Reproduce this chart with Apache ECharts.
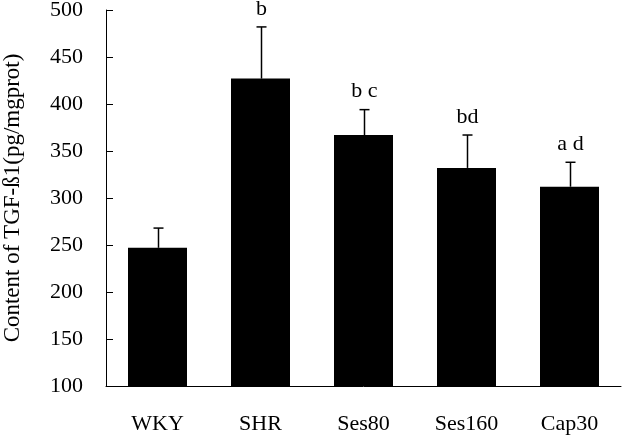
<!DOCTYPE html>
<html>
<head>
<meta charset="utf-8">
<script src="https://cdn.jsdelivr.net/npm/echarts@6/dist/echarts.min.js"></script>
<style>
  html, body { margin: 0; padding: 0; background: #fff; }
  #chart-box { width: 631px; height: 436px; }
</style>
</head>
<body>
<div id="chart-box"></div>
<script>
const categories = ['WKY', 'SHR', 'Ses80', 'Ses160', 'Cap30']
const means = [247, 427, 367, 332, 312]
const errorTops = [268, 482, 394, 367, 338]
const letters = ['', 'b', 'b c', 'bd', 'a d']
const yTicks = [100, 150, 200, 250, 300, 350, 400, 450, 500]

const font = '"Liberation Serif", "Times New Roman", serif'

let chart = echarts.init(document.getElementById('chart-box'))
chart.setOption({
    animation: false,
    grid: {left: 106, right: 10, top: 10, bottom: 50, outerBoundsMode: 'none'},
    xAxis: {
        type: 'category',
        data: categories,
        axisLine: {lineStyle: {color: '#000', width: 1}},
        axisTick: {inside: true, length: 6, lineStyle: {color: '#000'}},
        axisLabel: {color: '#000', fontFamily: font, fontSize: 22, margin: 27}
    },
    yAxis: {
        type: 'value',
        min: yTicks[0],
        max: yTicks[yTicks.length - 1],
        interval: 50,
        name: 'Content of TGF-ß1(pg/mgprot)',
        nameLocation: 'middle',
        nameGap: 82,
        nameTextStyle: {color: '#000', fontFamily: font, fontSize: 23},
        axisLine: {show: true, lineStyle: {color: '#000', width: 1}},
        axisTick: {show: true, inside: true, length: 7, lineStyle: {color: '#000'}},
        axisLabel: {color: '#000', fontFamily: font, fontSize: 22, margin: 23},
        splitLine: {show: false}
    },
    series: [{
        type: 'bar',
        data: means,
        barWidth: 59,
        itemStyle: {color: '#000'}
    }, {
        type: 'custom',
        data: categories.map((c, i) => [i, means[i], errorTops[i]]),
        z: 3,
        renderItem: function (params, api) {
            let base = api.coord([api.value(0), api.value(1)])
            let top = api.coord([api.value(0), api.value(2)])
            let x = Math.round(base[0]) + 0.5
            let children = [
                {type: 'line', shape: {x1: x, y1: base[1], x2: x, y2: top[1]}, style: {stroke: '#000', lineWidth: 1.5}},
                {type: 'line', shape: {x1: x - 5, y1: top[1], x2: x + 5, y2: top[1]}, style: {stroke: '#000', lineWidth: 1.5}}
            ]
            let txt = letters[params.dataIndex]
            if (txt) {
                children.push({
                    type: 'text',
                    style: {
                        text: txt, x: x, y: top[1] - 7,
                        textAlign: 'center', textVerticalAlign: 'bottom',
                        fill: '#000', font: '22px ' + font
                    }
                })
            }
            return {type: 'group', children: children}
        }
    }]
})
</script>
</body>
</html>
